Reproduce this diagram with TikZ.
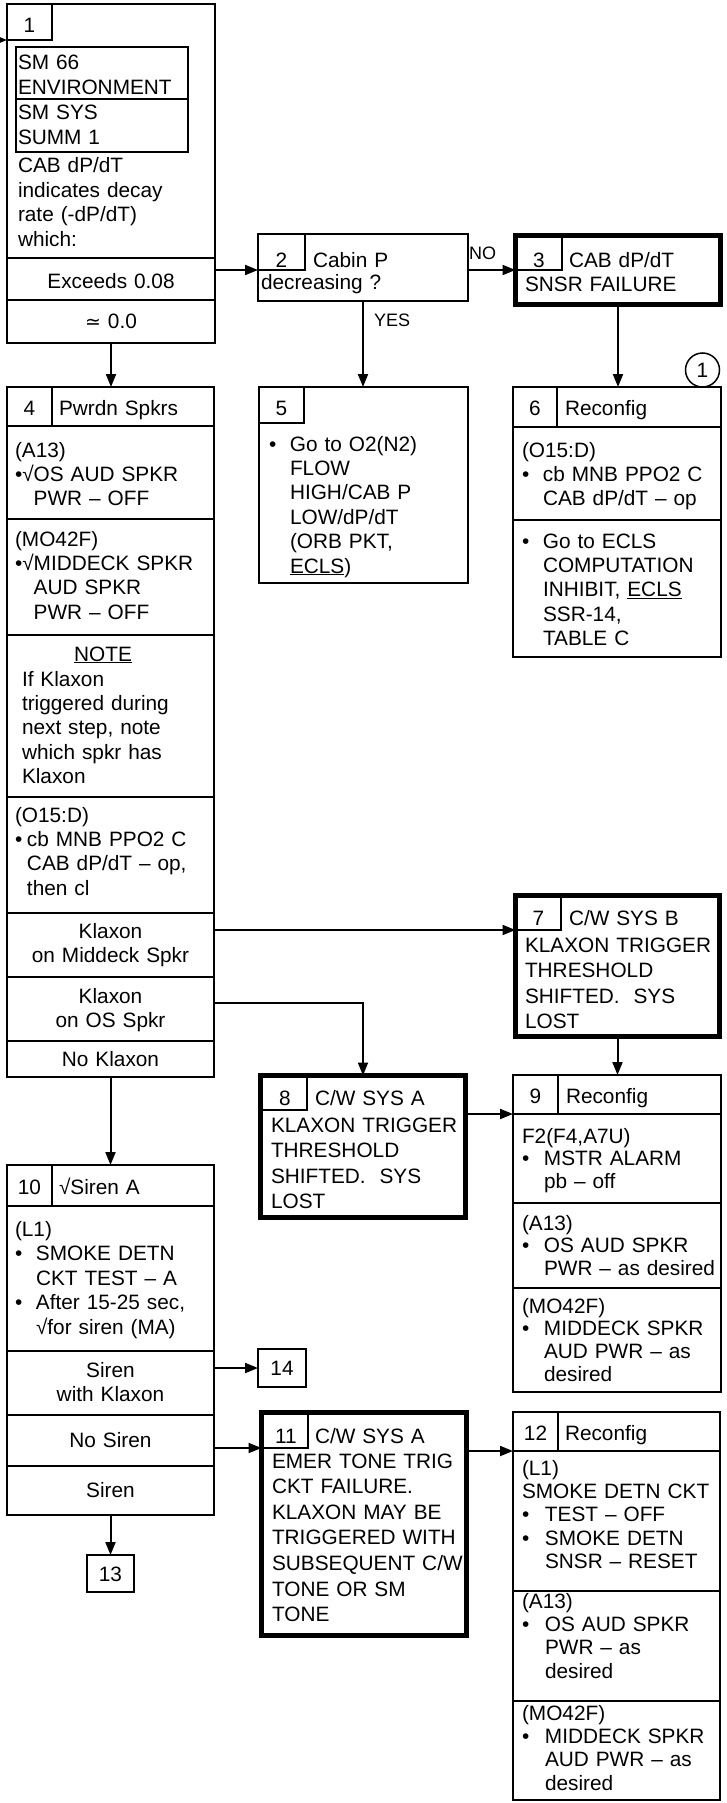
\documentclass[tikz,border=0pt]{standalone}
\usepackage{fontspec}
\setmainfont{Liberation Sans}
\newfontfamily\djv{DejaVu Sans}
\usetikzlibrary{arrows.meta}
\newcommand\fsA{\fontsize{20.8}{24.4}\selectfont}
\newcommand\fsB{\fontsize{20.8}{23.4}\selectfont}
\newcommand\fsC{\fontsize{20.8}{22.7}\selectfont}
\newcommand\fsD{\fontsize{20.8}{25.6}\selectfont}
\newcommand\fsS{\fontsize{18}{20}\selectfont}
\newcommand\bu[1]{\makebox[#1pt][l]{•}}
\newcommand\ii[1]{\hspace*{#1pt}}
\tikzset{
 bxs/.style={draw, line width=2pt, inner sep=0pt, outer sep=0pt, anchor=north west, rectangle},
 thk/.style={line width=5pt},
 txt/.style={anchor=base west, inner sep=0pt, outer sep=0pt, text width=200pt, align=left, font=\fsA},
 ctr/.style={anchor=base, inner sep=0pt, outer sep=0pt, text width=200pt, align=center, font=\fsA},
 num/.style={anchor=base, inner sep=0pt, outer sep=0pt, font=\fsA},
 con/.style={line width=2pt, -{Triangle[length=13pt,width=10pt]}},
 lbl/.style={anchor=base west, inner sep=0pt, font=\fsS},
}
\newcommand\bx[6][]{\node[bxs,#1,minimum width={(#5-#3)*1pt},minimum height={(#6-#4)*1pt}] (#2) at (#3,#4) {};}
\begin{document}
\begin{tikzpicture}[x=1pt,y=-1pt]
\path[use as bounding box, fill=white] (0,0) rectangle (727,1803);
% ---------- Box 1
\bx{b1}{7}{4}{215}{343}
\bx{b1n}{7}{4}{52}{40}
\bx{b1s1}{16}{47}{188}{99}
\bx{b1s2}{16}{99}{188}{152}
\bx{b1r1}{7}{258}{215}{300}
\bx{b1r2}{7}{300}{215}{343}
\node[num] (t1n) at (29.5,32.5) {1};
\node[txt] (t1a) at (18,70) {SM 66\\ENVIRONMENT};
\node[txt] (t1b) at (18,120) {SM SYS\\SUMM 1};
\node[txt] (t1c) at (18,173) {CAB dP/dT\\indicates decay\\rate (-dP/dT)\\which:};
\node[ctr] (t1d) at (111,288) {Exceeds 0.08};
\node[ctr] (t1e) at (111,328) {{\djv\fontsize{19}{20}\selectfont ≃} 0.0};
% ---------- Box 2
\bx{b2}{258}{234}{468}{301}
\bx{b2n}{258}{234}{305}{270}
\node[num] (t2n) at (281.5,267) {2};
\node[txt] (t2a) at (313,267) {Cabin P};
\node[txt] (t2b) at (261,289) {decreasing ?};
% ---------- Box 3
\bx[thk]{b3}{515.5}{235.5}{720.5}{304.5}
\bx{b3n}{515.5}{235.5}{562}{270}
\node[num] (t3n) at (539,267) {3};
\node[txt] (t3a) at (569,267) {CAB dP/dT};
\node[txt] (t3b) at (525,291) {SNSR FAILURE};
\node[lbl] (lno) at (469,260) {NO};
\node[lbl] (lyes) at (374,326) {YES};
% ---------- Box 5
\bx{b5}{259}{387}{468}{583}
\bx{b5n}{259}{387}{304}{423}
\node[num] (t5n) at (281.5,415) {5};
\node[txt] (t5a) at (269,451) {\bu{21}Go to O2(N2)\\\ii{21}FLOW\\\ii{21}HIGH/CAB P\\\ii{21}LOW/dP/dT\\\ii{21}(ORB PKT,\\\ii{21}\underline{ECLS})};
% ---------- Box 6
\bx{b6}{513}{387}{721}{657}
\bx{b6h}{513}{387}{721}{427}
\bx{b6n}{513}{387}{557}{427}
\bx{b6s1}{513}{427}{721}{520}
\node[num] (t6n) at (535,415) {6};
\node[txt] (t6a) at (565,415) {Reconfig};
\node[txt] (t6b) at (522,457) {(O15:D)\\\bu{21}cb MNB PPO2 C\\\ii{21}CAB dP/dT – op};
\node[txt] (t6c) at (522,548) {\bu{21}Go to ECLS\\\ii{21}COMPUTATION\\\ii{21}INHIBIT, \underline{ECLS}\\\ii{21}SSR-14,\\\ii{21}TABLE C};
\node[draw, circle, line width=1.5pt, minimum size=34pt, inner sep=0pt, font=\fsA] (c1) at (702.5,370) {1};
% ---------- Box 4
\bx{b4}{7}{387}{214}{1077}
\bx{b4h}{7}{387}{214}{426}
\bx{b4n}{7}{387}{52}{426}
\bx{b4s1}{7}{426}{214}{519}
\bx{b4s2}{7}{519}{214}{635}
\bx{b4s3}{7}{635}{214}{797}
\bx{b4s4}{7}{797}{214}{913}
\bx{b4r1}{7}{913}{214}{977}
\bx{b4r2}{7}{977}{214}{1041}
\bx{b4r3}{7}{1041}{214}{1077}
\node[num] (t4n) at (29.5,415) {4};
\node[txt] (t4a) at (59,415) {Pwrdn Spkrs};
\node[txt] (t4b) at (15,457) {(A13)\\•√OS AUD SPKR\\\phantom{•√}PWR – OFF};
\node[txt] (t4c) at (15,546) {(MO42F)\\•√MIDDECK SPKR\\\phantom{•√}AUD SPKR\\\phantom{•√}PWR – OFF};
\node[ctr] (t4d) at (103,661) {\underline{NOTE}};
\node[txt] (t4e) at (22,686) {If Klaxon\\triggered during\\next step, note\\which spkr has\\Klaxon};
\node[txt] (t4f) at (15,822) {(O15:D)\\\bu{12}cb MNB PPO2 C\\\ii{12}CAB dP/dT – op,\\\ii{12}then cl};
\node[ctr] (t4g) at (110.5,938) {Klaxon\\on Middeck Spkr};
\node[ctr] (t4h) at (110.5,1003) {Klaxon\\on OS Spkr};
\node[ctr] (t4i) at (110.5,1066) {No Klaxon};
% ---------- Box 7
\bx[thk]{b7}{515.5}{895.5}{719.5}{1036.5}
\bx{b7n}{515.5}{895.5}{561}{930}
\node[num] (t7n) at (538.5,925) {7};
\node[txt] (t7a) at (569,925) {C/W SYS B};
\node[txt,font=\fsD] (t7b) at (525,952) {KLAXON TRIGGER\\THRESHOLD\\SHIFTED.\ \ SYS\\LOST};
% ---------- Box 8
\bx[thk]{b8}{260.5}{1075.5}{465.5}{1217.5}
\bx{b8n}{260.5}{1075.5}{307}{1110}
\node[num] (t8n) at (285,1105) {8};
\node[txt] (t8a) at (315,1105) {C/W SYS A};
\node[txt,font=\fsD] (t8b) at (271,1132) {KLAXON TRIGGER\\THRESHOLD\\SHIFTED.\ \ SYS\\LOST};
% ---------- Box 9
\bx{b9}{513}{1075}{721}{1392}
\bx{b9h}{513}{1075}{721}{1114}
\bx{b9n}{513}{1075}{558}{1114}
\bx{b9s1}{513}{1114}{721}{1203}
\bx{b9s2}{513}{1203}{721}{1288}
\node[num] (t9n) at (535.5,1103) {9};
\node[txt] (t9a) at (566,1103) {Reconfig};
\node[txt,font=\fsC] (t9b) at (522,1143) {F2(F4,A7U)\\\bu{22}MSTR ALARM\\\ii{22}pb – off};
\node[txt,font=\fsC] (t9c) at (522,1230) {(A13)\\\bu{22}OS AUD SPKR\\\ii{22}PWR – as desired};
\node[txt,font=\fsC] (t9d) at (522,1313) {(MO42F)\\\bu{22}MIDDECK SPKR\\\ii{22}AUD PWR – as\\\ii{22}desired};
% ---------- Box 10
\bx{b10}{7}{1165}{214}{1515}
\bx{b10h}{7}{1165}{214}{1206}
\bx{b10n}{7}{1165}{52}{1206}
\bx{b10s1}{7}{1206}{214}{1351}
\bx{b10r1}{7}{1351}{214}{1415}
\bx{b10r2}{7}{1415}{214}{1466}
\bx{b10r3}{7}{1466}{214}{1515}
\node[num] (t10n) at (29.5,1194) {10};
\node[txt] (t10a) at (59,1194) {√Siren A};
\node[txt] (t10b) at (15,1236.5) {(L1)\\\bu{21}SMOKE DETN\\\ii{21}CKT TEST – A\\\bu{21}After 15-25 sec,\\\ii{21}√for siren (MA)};
\node[ctr] (t10c) at (110.5,1377) {Siren\\with Klaxon};
\node[ctr] (t10d) at (110.5,1447) {No Siren};
\node[ctr] (t10e) at (110.5,1497) {Siren};
% ---------- Boxes 13, 14
\bx{b13}{87}{1555}{134}{1592}
\node[num] (t13) at (110.5,1581) {13};
\bx{b14}{258}{1349}{306}{1387}
\node[num] (t14) at (282,1375) {14};
% ---------- Box 11
\bx[thk]{b11}{261.5}{1412.5}{466.5}{1635.5}
\bx{b11n}{261.5}{1412.5}{308}{1448}
\node[num] (t11n) at (286,1443) {11};
\node[txt] (t11a) at (315,1443) {C/W SYS A};
\node[txt,font=\fsD] (t11b) at (272,1468) {EMER TONE TRIG\\CKT FAILURE.\\KLAXON MAY BE\\TRIGGERED WITH\\SUBSEQUENT C/W\\TONE OR SM\\TONE};
% ---------- Box 12
\bx{b12}{513}{1412}{720}{1800}
\bx{b12h}{513}{1412}{720}{1451}
\bx{b12n}{513}{1412}{558}{1451}
\bx{b12s1}{513}{1451}{720}{1591}
\bx{b12s2}{513}{1591}{720}{1701}
\node[num] (t12n) at (535.5,1440) {12};
\node[txt] (t12a) at (565,1440) {Reconfig};
\node[txt,font=\fsB] (t12b) at (522,1475) {(L1)\\SMOKE DETN CKT\\\bu{23}TEST – OFF\\\bu{23}SMOKE DETN\\\ii{23}SNSR – RESET};
\node[txt,font=\fsB] (t12c) at (522,1608) {(A13)\\\bu{23}OS AUD SPKR\\\ii{23}PWR – as\\\ii{23}desired};
\node[txt,font=\fsB] (t12d) at (522,1720) {(MO42F)\\\bu{23}MIDDECK SPKR\\\ii{23}AUD PWR – as\\\ii{23}desired};
% ---------- Connectors
\coordinate (in1) at (-25,40);
\draw[con] (in1) -- (b1n.south west);
\draw[con] (b1r1.east |- b2n.south) -- (b2n.south west);
\draw[con] (b2.east |- b3n.south) -- (b3.west |- b3n.south);
\draw[con] (b2.south) -- (b2.south |- b5.north);
\draw[con] (b3.south) -- (b3.south |- b6.north);
\draw[con] (b1.south) -- (b1.south |- b4.north);
\draw[con] (b4r1.east |- b7n.south) -- (b7.west |- b7n.south);
\draw[con] ([yshift=6pt]b4r2.east) -| (b8.north);
\draw[con] (b7.south) -- (b7.south |- b9.north);
\draw[con] (b8.east |- b9h.south) -- (b9h.south west);
\draw[con] (b4.south) -- (b4.south |- b10.north);
\draw[con] (b10r1.east |- b14.west) -- (b14.west);
\draw[con] (b10r2.east |- b11n.south) -- (b11.west |- b11n.south);
\draw[con] (b10.south) -- (b10.south |- b13.north);
\draw[con] (b11.east |- b12h.south) -- (b12h.south west);
\end{tikzpicture}
\end{document}
